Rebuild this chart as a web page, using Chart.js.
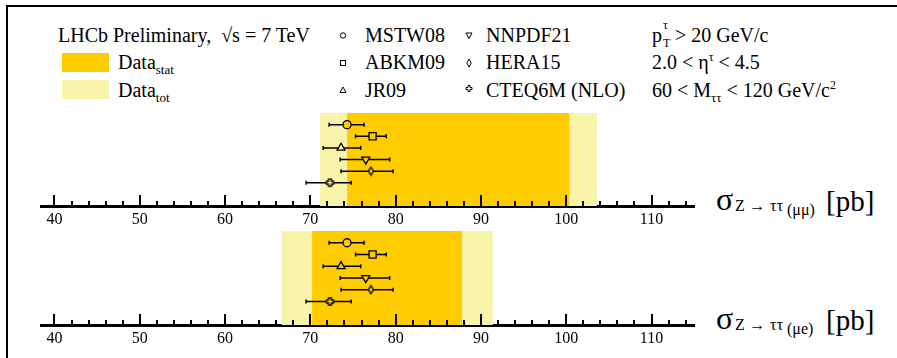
<!DOCTYPE html>
<html>
<head>
<meta charset="utf-8">
<script src="https://cdn.jsdelivr.net/npm/chart.js@4.4.1/dist/chart.umd.min.js"></script>
<style>
  body { margin: 0; background: #fff; }
  #page { position: relative; width: 897px; height: 358px; overflow: hidden; color: #000;
          font-family: 'Liberation Serif', 'Times New Roman', serif; }
  #frame { position: absolute; left: 6px; top: 5px; width: 900px; height: 360px;
           border-top: 2px solid #000; border-left: 2px solid #000; }
  .t { position: absolute; line-height: 1; white-space: nowrap; font-size: 20px; }
  .box { position: absolute; left: 62px; width: 47px; height: 19px; }
  .sub { font-size: 13px; position: relative; top: 5px; }
  .sup { font-size: 12px; position: relative; top: -8px; }
  .pt { position: relative; display: inline-block; width: 8px; }
  .pt span { position: absolute; left: 1px; font-size: 12px; line-height: 1; }
  canvas { position: absolute; }
</style>
</head>
<body>
<div id="page">
  <div id="frame"></div>

  <div class="t" style="left:58px; top:25px;">LHCb Preliminary,&nbsp; √s = 7 TeV</div>
  <div class="box" style="top:53px; background:#ffcc00;"></div>
  <div class="box" id="totBox" style="top:80px;"></div>
  <div class="t" style="left:118px; top:52px;">Data<span class="sub">stat</span></div>
  <div class="t" style="left:118px; top:80px;">Data<span class="sub">tot</span></div>

  <div class="t" style="left:365px; top:25px;">MSTW08</div>
  <div class="t" style="left:365px; top:52px;">ABKM09</div>
  <div class="t" style="left:365px; top:80px;">JR09</div>
  <div class="t" style="left:486px; top:25px;">NNPDF21</div>
  <div class="t" style="left:486px; top:52px;">HERA15</div>
  <div class="t" style="left:486px; top:80px;">CTEQ6M (NLO)</div>

  <div class="t" style="left:652px; top:25px;">p<span class="pt"><span style="top:-23px;">τ</span><span style="top:-5px;">T</span></span> &gt; 20 GeV/c</div>
  <div class="t" style="left:652px; top:52px;">2.0 &lt; η<span class="sup">τ</span> &lt; 4.5</div>
  <div class="t" style="left:652px; top:80px;">60 &lt; M<span class="sub">ττ</span> &lt; 120 GeV/c<span class="sup">2</span></div>

  <svg width="897" height="110" style="position:absolute; left:0; top:0;" fill="none" stroke="#000" stroke-width="1">
    <circle cx="343" cy="35.5" r="2.7"/>
    <rect x="340.5" y="60.5" width="5" height="5"/>
    <polygon points="343,87 346,92.5 340,92.5"/>
    <polygon points="466,33 472,33 469,38.5"/>
    <polygon points="469,59 471.2,63 469,67 466.8,63"/>
    <polygon points="468,85.5 470,85.5 470,87.5 472,87.5 472,89.5 470,89.5 470,91.5 468,91.5 468,89.5 466,89.5 466,87.5 468,87.5"/>
  </svg>

  <canvas id="chartMuMu" width="655" height="117" style="left:40px; top:113px;"></canvas>
  <canvas id="chartMuE" width="655" height="118" style="left:40px; top:231px;"></canvas>

  <div class="t" style="left:716px; top:183px; font-size:32px;">σ</div>
  <div class="t" style="left:735px; top:197.6px; font-size:16px; letter-spacing:0.3px;">Z → ττ</div>
  <div class="t" style="left:787px; top:202px; font-size:16px;">(μμ)</div>
  <div class="t" style="left:826px; top:186.5px; font-size:29px;">[pb]</div>

  <div class="t" style="left:716px; top:302px; font-size:32px;">σ</div>
  <div class="t" style="left:735px; top:316.6px; font-size:16px; letter-spacing:0.3px;">Z → ττ</div>
  <div class="t" style="left:787px; top:321px; font-size:16px;">(μe)</div>
  <div class="t" style="left:826px; top:305.5px; font-size:29px;">[pb]</div>
</div>

<script>
// theory predictions (same in both channels)
const models = ['MSTW08', 'ABKM09', 'JR09', 'NNPDF21', 'HERA15', 'CTEQ6M (NLO)'];
const modelValues = [74.3, 77.3, 73.6, 76.5, 77.1, 72.3];
const modelErrLo = [72.2, 75.3, 71.5, 73.5, 73.6, 69.5];
const modelErrHi = [76.3, 78.9, 75.9, 79.3, 79.7, 74.8];
const modelRows = [7, 6, 5, 4, 3, 2];

// measured cross sections [pb]: stat and total uncertainty bands
const muMuStat = [74.3, 100.4];
const muMuTot = [71.1, 103.6];
const muEStat = [70.2, 87.8];
const muETot = [66.6, 91.4];

// axis
const axisMin = 38.3;
const axisMax = 115.1;
const tickLabels = [40, 50, 60, 70, 80, 90, 100, 110];
const minorStep = 2;

const statColor = '#ffcc00';

// hatched pale yellow for the total uncertainty
function makeTotPattern() {
    const pc = document.createElement('canvas');
    pc.width = 2; pc.height = 2;
    const g = pc.getContext('2d');
    g.fillStyle = '#fffbb0';
    g.fillRect(0, 0, 2, 2);
    g.fillStyle = '#ffef70';
    g.fillRect(0, 0, 1, 1);
    g.fillRect(1, 1, 1, 1);
    return g.createPattern(pc, 'repeat');
}
const totPattern = makeTotPattern();
document.getElementById('totBox').style.background =
    'repeating-conic-gradient(#ffef70 0 25%, #fffbb0 0 50%) 0 0 / 2px 2px';

function markerCanvas(shape, fill) {
    const c = document.createElement('canvas');
    c.width = 11; c.height = 11;
    const g = c.getContext('2d');
    g.lineWidth = 1.3;
    g.strokeStyle = '#000';
    g.fillStyle = fill;
    g.beginPath();
    if (shape === 'diamond') {
        g.moveTo(5.5, 1.5); g.lineTo(8, 5.5); g.lineTo(5.5, 9.5); g.lineTo(3, 5.5);
    } else {
        const pts = [[4, 2], [7, 2], [7, 4], [9, 4], [9, 7], [7, 7], [7, 9], [4, 9], [4, 7], [2, 7], [2, 4], [4, 4]];
        pts.forEach((p, i) => i ? g.lineTo(p[0], p[1]) : g.moveTo(p[0], p[1]));
    }
    g.closePath();
    g.fill();
    g.stroke();
    return c;
}

// tick marks pointing up into the plot, long ones at the labelled values
const tickMarks = {
    id: 'tickMarks',
    afterDraw(chart) {
        const {ctx, chartArea, scales: {x}} = chart;
        ctx.save();
        ctx.strokeStyle = '#000';
        ctx.lineWidth = 2;
        ctx.beginPath();
        for (let v = tickLabels[0]; v < axisMax; v += minorStep) {
            const px = Math.round(x.getPixelForValue(v));
            const len = tickLabels.includes(v) ? 11 : 5;
            ctx.moveTo(px, chartArea.bottom);
            ctx.lineTo(px, chartArea.bottom - len);
        }
        ctx.stroke();
        ctx.restore();
    }
};

function renderChannel(canvasId, stat, tot) {
    const fillFor = v => (v >= stat[0] && v <= stat[1]) ? statColor : totPattern;

    const errorBars = modelValues.map((v, i) => ({
        data: [{x: modelErrLo[i], y: modelRows[i]}, {x: modelErrHi[i], y: modelRows[i]}],
        borderColor: '#000',
        borderWidth: 1.5,
        pointStyle: 'line',
        pointRotation: 90,
        pointRadius: 2,
        pointBorderWidth: 1.5,
        pointBorderColor: '#000',
        fill: false,
        order: 1
    }));

    new Chart(document.getElementById(canvasId), {
        type: 'line',
        data: {
            datasets: [
                {
                    label: 'Data tot',
                    data: [{x: tot[0], y: 8}, {x: tot[1], y: 8}],
                    fill: 'start',
                    backgroundColor: totPattern,
                    borderColor: 'rgba(0,0,0,0)',
                    borderWidth: 0,
                    pointRadius: 0,
                    order: 3
                },
                {
                    label: 'Data stat',
                    data: [{x: stat[0], y: 8}, {x: stat[1], y: 8}],
                    fill: 'start',
                    backgroundColor: statColor,
                    borderColor: 'rgba(0,0,0,0)',
                    borderWidth: 0,
                    pointRadius: 0,
                    order: 2
                },
                ...errorBars,
                {
                    label: 'Predictions',
                    data: modelValues.map((v, i) => ({x: v, y: modelRows[i]})),
                    showLine: false,
                    pointStyle: ['circle', 'rect', 'triangle', 'triangle',
                        markerCanvas('diamond', fillFor(modelValues[4])),
                        markerCanvas('cross', fillFor(modelValues[5]))],
                    pointRotation: [0, 0, 0, 180, 0, 0],
                    pointRadius: [4, 5, 4.6, 4.6, 5, 5],
                    pointBorderColor: '#000',
                    pointBorderWidth: 1.3,
                    pointBackgroundColor: ctx => fillFor(ctx.raw.x),
                    order: 0
                }
            ]
        },
        options: {
            responsive: false,
            animation: false,
            events: [],
            layout: { padding: 0, autoPadding: false },
            plugins: {
                legend: { display: false },
                tooltip: { enabled: false }
            },
            scales: {
                x: {
                    type: 'linear',
                    min: axisMin,
                    max: axisMax,
                    z: 1,
                    grid: { display: false, drawTicks: false },
                    border: { display: true, color: '#000', width: 3 },
                    ticks: {
                        color: '#000',
                        font: { family: 'Liberation Serif', size: 16 },
                        padding: 4,
                        maxRotation: 0,
                        autoSkip: false
                    },
                    afterBuildTicks: s => { s.ticks = tickLabels.map(v => ({value: v})); },
                    afterFit: s => { s.height = 24; }
                },
                y: { type: 'linear', display: false, min: 0, max: 8 }
            }
        },
        plugins: [tickMarks]
    });
}

renderChannel('chartMuMu', muMuStat, muMuTot);
renderChannel('chartMuE', muEStat, muETot);
</script>
</body>
</html>
